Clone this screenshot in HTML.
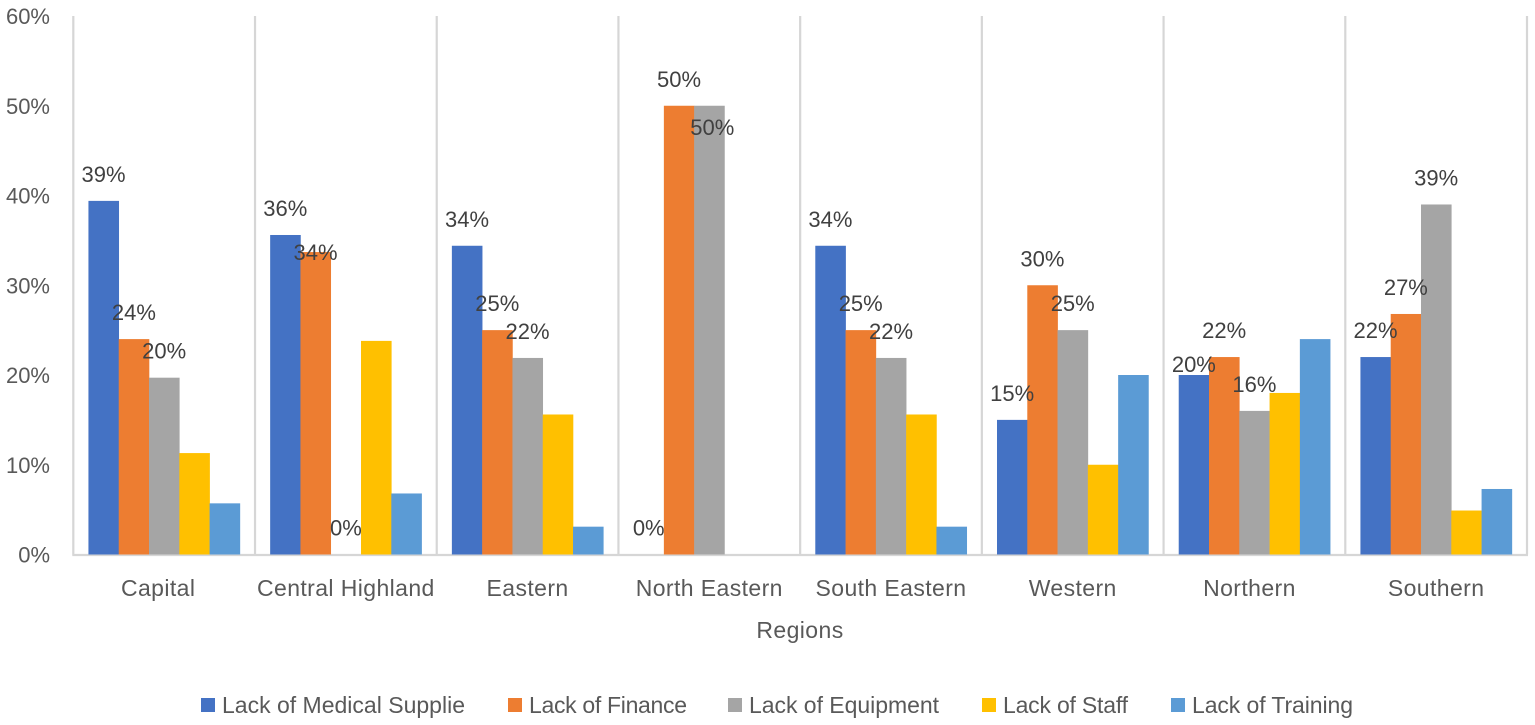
<!DOCTYPE html>
<html lang="en">
<head>
<meta charset="utf-8">
<title>Challenges by Region</title>
<style>
  html, body { margin: 0; padding: 0; background: #fff; }
  svg { display: block; font-family: "Liberation Sans", sans-serif; }
</style>
</head>
<body>
<svg id="chart" xmlns="http://www.w3.org/2000/svg" width="1535" height="725" viewBox="0 0 1535 725"></svg>
<script>
const categories = ["Capital", "Central Highland", "Eastern", "North Eastern", "South Eastern", "Western", "Northern", "Southern"];
const seriesNames = ["Lack of Medical Supplie", "Lack of Finance", "Lack of Equipment", "Lack of Staff", "Lack of Training"];
const medicalSupplie = [39.4, 35.6, 34.4, 0, 34.4, 15, 20, 22];
const finance = [24, 33.7, 25, 50, 25, 30, 22, 26.8];
const equipment = [19.7, 0, 21.9, 50, 21.9, 25, 16, 39];
const staff = [11.3, 23.8, 15.6, 0, 15.6, 10, 18, 4.9];
const training = [5.7, 6.8, 3.1, 0, 3.1, 20, 24, 7.3];
const yTicks = [0, 10, 20, 30, 40, 50, 60];
const labelledSeriesCount = 3;

const seriesValues = [medicalSupplie, finance, equipment, staff, training];
const colors = ["#4472C4", "#ED7D31", "#A5A5A5", "#FFC000", "#5B9BD5"];
const legendSwatchX = [201, 508, 728, 982, 1171];
const legendTextWidth = [243, 158, 190, 125, 161];

const svg = document.getElementById("chart");
const NS = "http://www.w3.org/2000/svg";
const plotLeft = 73.3, plotRight = 1527, plotTop = 16, plotBottom = 554.5, yMax = 60;
const bandWidth = (plotRight - plotLeft) / categories.length;
const barWidth = bandWidth / 6;
function yScale(v) { return plotBottom - (v / yMax) * (plotBottom - plotTop); }
function bandX(i) { return plotLeft + i * bandWidth; }
function barX(c, s) { return bandX(c) + barWidth / 2 + s * barWidth; }

function make(tag, attrs, text) {
  const el = document.createElementNS(NS, tag);
  for (const k in attrs) el.setAttribute(k, attrs[k]);
  if (text !== undefined) el.textContent = text;
  svg.appendChild(el);
  return el;
}

// vertical category gridlines
for (let i = 0; i <= categories.length; i++) {
  const g = make("line", { x1: bandX(i), x2: bandX(i), y1: plotTop, y2: plotBottom, stroke: "#d6d6d6", "stroke-width": 2.2 });
  
  
}

// baseline
const axisLine = make("line", { x1: plotLeft - 1, x2: plotRight + 1, y1: plotBottom + 0.5, y2: plotBottom + 0.5, stroke: "#d6d6d6", "stroke-width": 2.2 });



// y ticks
yTicks.forEach(function (t) {
  const el = make("text", { x: 50, y: yScale(t) + 8, "text-anchor": "end", "font-size": 22, fill: "#595959" }, t + "%");
  
  
});

// bars
seriesValues.forEach(function (vals, s) {
  vals.forEach(function (v, c) {
    if (v <= 0) return;
    const r = make("rect", { x: barX(c, s), y: yScale(v), width: barWidth + 0.3, height: plotBottom - yScale(v), fill: colors[s] });
    
    
  });
});

// manual label shifts seen in the picture, keyed "series-category"
const labelNudge = {
  "1-1": [0, 27],
  "2-3": [3, 48],
  "0-6": [0, 16]
};

// data labels
seriesValues.slice(0, labelledSeriesCount).forEach(function (vals, s) {
  vals.forEach(function (v, c) {
    const n = labelNudge[s + "-" + c] || [0, 0];
    const cx = barX(c, s) + barWidth / 2 + n[0];
    const cy = yScale(v) - 27 + n[1];
    const el = make("text", { x: cx, y: cy + 8, "text-anchor": "middle", "font-size": 22, fill: "#404040" }, Math.round(v) + "%");
    
    
  });
});

// category labels
const categoryNudge = { "Capital": -6, "Northern": -5 };
categories.forEach(function (name, c) {
  const el = make("text", { x: bandX(c) + bandWidth / 2 + (categoryNudge[name] || 0), y: 596, "text-anchor": "middle", "font-size": 23, "letter-spacing": 0.4, fill: "#595959" }, name);
  
  
});

// axis title
const axisTitle = make("text", { x: 800, y: 638, "text-anchor": "middle", "font-size": 23, "letter-spacing": 0.4, fill: "#595959" }, "Regions");



// legend
seriesNames.forEach(function (name, s) {
  const sw = make("rect", { x: legendSwatchX[s], y: 698, width: 14, height: 14, fill: colors[s] });
  
  
  const tx = make("text", { x: legendSwatchX[s] + 21, y: 713, "font-size": 23, textLength: legendTextWidth[s], lengthAdjust: "spacing", fill: "#595959" }, name);
  
  
});
</script>
</body>
</html>
